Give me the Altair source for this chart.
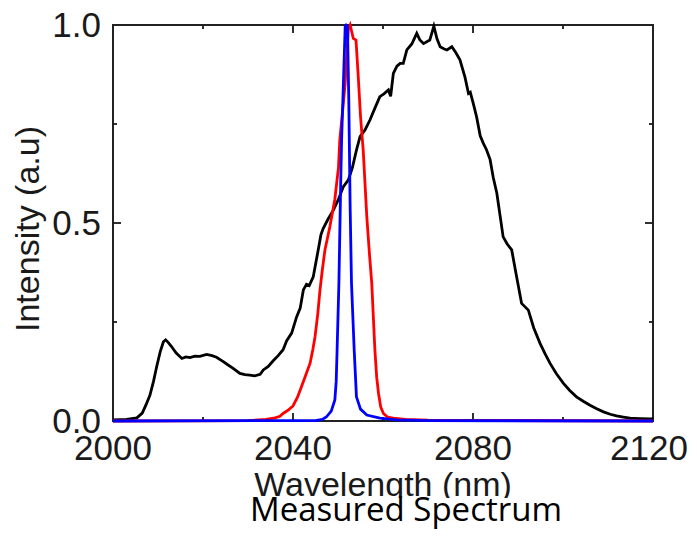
import altair as alt
import pandas as pd

# ---------------- data ----------------
black_x = [2000, 2003, 2005.3, 2006.5, 2007.3, 2008.2, 2009, 2009.7, 2010.5, 2011.2, 2011.7, 2012.3,
           2013, 2014, 2015.3, 2016.2, 2017.1, 2018.2, 2019.3, 2020.8, 2022, 2023, 2024.5, 2025.5,
           2026.7, 2028.2, 2029.3, 2030.4, 2031.5, 2032.7, 2033.4, 2034.5, 2035.6, 2036.7, 2037.8,
           2038.6, 2039.7, 2040.8, 2041.6, 2042.3, 2043, 2043.6, 2044.5, 2045.6, 2046.2, 2046.7,
           2047.8, 2049, 2050.1, 2051.2, 2052.3, 2053.2, 2054.1, 2054.9, 2056, 2057.1, 2058.2,
           2059.3, 2060.2, 2061.2, 2061.7, 2062.3, 2063.1, 2063.8, 2064.5, 2065.3, 2066.4, 2067.5,
           2068.2, 2069, 2070.4, 2071.3, 2072, 2072.7, 2073.5, 2074.2, 2075.3, 2076.2, 2077.1,
           2078.2, 2079, 2079.4, 2080.1, 2080.8, 2081.6, 2082.3, 2083, 2083.8, 2084.5, 2085.3,
           2086, 2086.7, 2087.6, 2088.6, 2089.6, 2090.8, 2092.3, 2093.5, 2094.9, 2096, 2097.1,
           2098.5, 2100.1, 2101.5, 2103, 2104.5, 2106, 2107.5, 2109, 2110.5, 2111.9, 2113.4,
           2114.9, 2117, 2119.3, 2120]
black_y = [0.003, 0.004, 0.008, 0.02, 0.04, 0.065, 0.1, 0.137, 0.175, 0.2, 0.205, 0.198,
           0.188, 0.172, 0.158, 0.162, 0.16, 0.164, 0.163, 0.168, 0.165, 0.161, 0.15, 0.142,
           0.133, 0.12, 0.117, 0.116, 0.114, 0.118, 0.129, 0.138, 0.152, 0.165, 0.18,
           0.203, 0.222, 0.263, 0.285, 0.331, 0.345, 0.342, 0.364, 0.432, 0.47, 0.486,
           0.51, 0.533, 0.56, 0.592, 0.609, 0.64, 0.684, 0.718, 0.735, 0.76, 0.79,
           0.819, 0.826, 0.836, 0.82, 0.878, 0.896, 0.903, 0.903, 0.937, 0.952, 0.979,
           0.962, 0.953, 0.962, 0.997, 0.965, 0.945, 0.94, 0.937, 0.945, 0.93, 0.912,
           0.869, 0.827, 0.83, 0.8, 0.768, 0.72, 0.701, 0.685, 0.66, 0.615, 0.575,
           0.52, 0.465, 0.447, 0.432, 0.37, 0.297, 0.28, 0.235, 0.196, 0.17, 0.146,
           0.12, 0.095, 0.077, 0.061, 0.05, 0.04, 0.031, 0.023, 0.017, 0.013, 0.01,
           0.007, 0.006, 0.005, 0.005]

red_x = [2000, 2030, 2034, 2036, 2037.1, 2037.8, 2039, 2040, 2041, 2041.9, 2042.8, 2043.8,
         2044.4, 2044.9, 2045.5, 2046, 2046.5, 2047.1, 2048.2, 2049.3, 2050.1, 2050.4, 2051,
         2051.6, 2052.3, 2052.7, 2053.4, 2054, 2054.5, 2055, 2055.6, 2056.4, 2057, 2057.5,
         2058.2, 2058.6, 2059, 2059.5, 2060.1, 2061, 2062.3, 2065, 2070, 2120]
red_y = [0.0, 0.001, 0.004, 0.008, 0.012, 0.019, 0.028, 0.038, 0.06, 0.087, 0.115, 0.146,
         0.18, 0.213, 0.27, 0.331, 0.38, 0.432, 0.491, 0.56, 0.64, 0.71, 0.78,
         0.853, 0.99, 1.0, 0.966, 0.962, 0.87, 0.77, 0.684, 0.516, 0.42, 0.348,
         0.179, 0.11, 0.07, 0.035, 0.019, 0.01, 0.007, 0.004, 0.002, 0.0]

blue_x = [2000, 2045, 2046.5, 2047.4, 2048.5, 2049.3, 2049.6, 2049.8, 2050.2, 2050.6, 2050.8,
          2051.2, 2051.6, 2051.8, 2052.1, 2052.4, 2052.7, 2053, 2053.6, 2054.1, 2055, 2056.4,
          2059.3, 2063, 2070, 2120]
blue_y = [0.0, 0.001, 0.004, 0.01, 0.025, 0.053, 0.1, 0.179, 0.348, 0.6, 0.71,
          0.853, 0.997, 1.0, 0.997, 0.81, 0.54, 0.348, 0.179, 0.061, 0.03, 0.015,
          0.007, 0.003, 0.001, 0.0]

x_labels = [2000, 2040, 2080, 2120]
y_labels = [0.0, 0.5, 1.0]
x_major_ticks = [2040, 2080]
x_minor_ticks = [2020, 2060, 2100]
y_major_ticks = [0.5]
y_minor_ticks = [0.25, 0.75]
x_title = ["Wavelength (nm)"]
y_title = ["Intensity (a.u)"]
caption = ["Measured Spectrum"]

# ---------------- chart ----------------
W, H = 540, 396
FONT = "Liberation Sans"
INK = "#1a1a1a"

xs = alt.Scale(domain=[2000, 2120], nice=False, zero=False)
ys = alt.Scale(domain=[0, 1], nice=False, zero=False)


def curve(xv, yv, color):
    df = pd.DataFrame({"wl": xv, "I": yv})
    return alt.Chart(df).mark_line(color=color, strokeWidth=2.8, clip=False).encode(
        x=alt.X("wl:Q", scale=xs, axis=None),
        y=alt.Y("I:Q", scale=ys, axis=None),
    )


def xticks(vals, size):
    df = pd.DataFrame({"t": vals})
    bottom = alt.Chart(df).mark_rule(color=INK, strokeWidth=1.8).encode(
        x=alt.X("t:Q", scale=xs, axis=None), y=alt.value(H), y2=alt.value(H - size))
    top = alt.Chart(df).mark_rule(color=INK, strokeWidth=1.8).encode(
        x=alt.X("t:Q", scale=xs, axis=None), y=alt.value(0), y2=alt.value(size))
    return [bottom, top]


def yticks(vals, size):
    df = pd.DataFrame({"t": vals})
    left = alt.Chart(df).mark_rule(color=INK, strokeWidth=1.8).encode(
        y=alt.Y("t:Q", scale=ys, axis=None), x=alt.value(0), x2=alt.value(size))
    right = alt.Chart(df).mark_rule(color=INK, strokeWidth=1.8).encode(
        y=alt.Y("t:Q", scale=ys, axis=None), x=alt.value(W), x2=alt.value(W - size))
    return [left, right]


xlab_df = pd.DataFrame({"v": x_labels, "s": [f"{v:d}" for v in x_labels]})
xlab_base = alt.Chart(xlab_df).encode(
    x=alt.X("v:Q", scale=xs, axis=None), y=alt.value(H + 39), text="s:N")
xlab_inner = xlab_base.mark_text(font=FONT, fontSize=35, color=INK, align="center",
                                 baseline="alphabetic").transform_filter(
    alt.datum.v < max(x_labels))
# the last label sits at the page edge: nudge it so it is not clipped
xlab_last = xlab_base.mark_text(font=FONT, fontSize=35, color=INK, align="center",
                                baseline="alphabetic", dx=-4).transform_filter(
    alt.datum.v == max(x_labels))

ylab_df = pd.DataFrame({"v": y_labels, "s": [f"{v:.1f}" for v in y_labels]})
ylab = alt.Chart(ylab_df).mark_text(font=FONT, fontSize=35, color=INK, align="right",
                                    baseline="middle", dy=1).encode(
    y=alt.Y("v:Q", scale=ys, axis=None), x=alt.value(-12), text="s:N")

xt_df = pd.DataFrame({"s": x_title})
xt = alt.Chart(xt_df).mark_text(font=FONT, fontSize=34, color=INK, align="center",
                                baseline="alphabetic").encode(
    x=alt.value(W / 2), y=alt.value(H + 75), text="s:N")

yt_df = pd.DataFrame({"s": y_title})
yt = alt.Chart(yt_df).mark_text(font=FONT, fontSize=34, color=INK, align="center",
                                baseline="middle", angle=270).encode(
    x=alt.value(-84), y=alt.value(H / 2 + 6), text="s:N")

cap_df = pd.DataFrame({"label": caption})
cover = alt.Chart(cap_df).mark_rect(color="white").encode(
    x=alt.value(110), x2=alt.value(480), y=alt.value(H + 77), y2=alt.value(H + 110))
cap = alt.Chart(cap_df).mark_text(font="Open Sans", fontSize=33, color="black",
                                  align="center", baseline="alphabetic").encode(
    text="label:N", x=alt.value(293), y=alt.value(H + 100))

layers = (xticks(x_major_ticks, 8) + xticks(x_minor_ticks, 4)
          + yticks(y_major_ticks, 8) + yticks(y_minor_ticks, 4)
          + [xlab_inner, xlab_last, ylab, xt, yt,
             curve(black_x, black_y, "black"),
             curve(red_x, red_y, "#ff0000"),
             curve(blue_x, blue_y, "#0000ff"),
             cover, cap])

chart = alt.layer(*layers).properties(
    width=W, height=H,
    background="white",
    autosize=alt.AutoSizeParams(type="none"),
    padding={"left": 105, "top": 17, "right": 36, "bottom": 110},
).configure_view(stroke="#222", strokeWidth=2)

chart.save("out.html", embed_options={"renderer": "svg", "actions": False})
